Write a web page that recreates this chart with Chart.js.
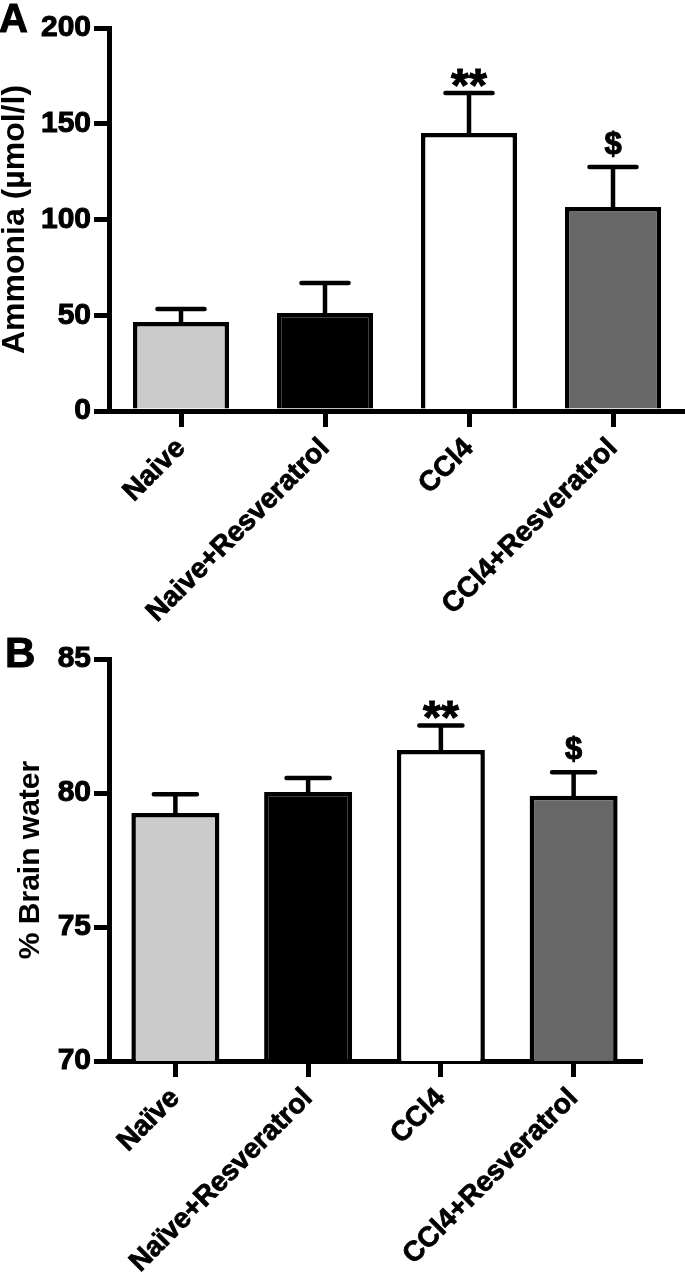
<!DOCTYPE html>
<html>
<head>
<meta charset="utf-8">
<script src="https://cdn.jsdelivr.net/npm/chart.js@4.4.0/dist/chart.umd.min.js"></script>
<style>
html, body { margin: 0; padding: 0; background: #fff; }
#wrap { position: relative; width: 685px; height: 1273px; overflow: hidden; }
canvas { position: absolute; left: 0; }
#chartA { top: 0; }
#chartB { top: 630px; }
</style>
</head>
<body>
<div id="wrap">
    <canvas id="chartA" width="685" height="630"></canvas>
    <canvas id="chartB" width="685" height="643"></canvas>
</div>
<script>
// Groups
const groupsA = ['Naive', 'Naive+Resveratrol', 'CCl4', 'CCl4+Resveratrol'];
const groupsB = ['Naïve', 'Naïve+Resveratrol', 'CCl4', 'CCl4+Resveratrol'];

// Panel A: ammonia (mean + SEM)
const ammoniaMean = [46.5, 51.2, 145.2, 106.5];
const ammoniaSem = [6.8, 15.6, 20.8, 20.9];
const ammoniaTicks = [0, 50, 100, 150, 200];

// Panel B: brain water (mean + SEM)
const waterMean = [79.25, 80.04, 81.6, 79.9];
const waterSem = [0.7, 0.52, 0.92, 0.87];
const waterTicks = [70, 75, 80, 85];

// Significance marks
const marks = ['', '', '**', '$'];

const barColors = ['#cbcbcb', '#000000', '#ffffff', '#676767'];

const boldFont = '"Liberation Sans", Arial, sans-serif';
const narrowFont = '"Liberation Sans Narrow", "Liberation Sans", Arial, sans-serif';

// Error bars + marks drawn above each bar
const errorBars = {
    id: 'errorBars',
    afterDatasetsDraw(chart) {
        const ctx = chart.ctx;
        const ds = chart.data.datasets[0];
        const meta = chart.getDatasetMeta(0);
        const y = chart.scales.y;
        meta.data.forEach((bar, i) => {
            const v = ds.data[i];
            const yBar = y.getPixelForValue(v);
            const yTop = y.getPixelForValue(v + ds.errors[i]);
            const half = bar.width * 0.245;
            ctx.save();
            ctx.strokeStyle = '#000';
            ctx.lineWidth = 4.5;
            ctx.lineCap = 'round';
            ctx.beginPath();
            ctx.moveTo(bar.x, yBar);
            ctx.lineTo(bar.x, yTop);
            ctx.moveTo(bar.x - half, yTop);
            ctx.lineTo(bar.x + half, yTop);
            ctx.stroke();

            const m = ds.marks[i];
            if (m) {
                ctx.fillStyle = '#000';
                ctx.strokeStyle = '#000';
                ctx.lineWidth = 1;
                ctx.textAlign = 'center';
                ctx.textBaseline = 'alphabetic';
                if (m === '**') {
                    ctx.font = 'bold 46px ' + boldFont;
                    ctx.fillText(m, bar.x, yTop + 8);
                    ctx.strokeText(m, bar.x, yTop + 8);
                } else {
                    ctx.font = 'bold 31px ' + boldFont;
                    ctx.fillText(m, bar.x, yTop - 13);
                    ctx.strokeText(m, bar.x, yTop - 13);
                }
            }
            ctx.restore();
        });
    }
};

// Panel letter
const panelLetter = {
    id: 'panelLetter',
    afterDraw(chart) {
        const o = chart.config.options.panel;
        const ctx = chart.ctx;
        ctx.save();
        ctx.fillStyle = '#000';
        ctx.strokeStyle = '#000';
        ctx.lineWidth = 1;
        ctx.font = 'bold ' + o.size + 'px ' + boldFont;
        ctx.textAlign = 'left';
        ctx.textBaseline = 'alphabetic';
        ctx.fillText(o.text, o.x, o.y);
        ctx.strokeText(o.text, o.x, o.y);
        ctx.restore();
    }
};

function makeChart(id, cfg) {
    return new Chart(document.getElementById(id), {
        type: 'bar',
        data: {
            labels: cfg.labels,
            datasets: [{
                data: cfg.means,
                errors: cfg.errors,
                marks: marks,
                backgroundColor: barColors,
                borderColor: '#000',
                borderWidth: 4.5,
                borderSkipped: 'start',
                barPercentage: cfg.barPct,
                categoryPercentage: 1
            }]
        },
        options: {
            responsive: false,
            animation: false,
            devicePixelRatio: 1,
            panel: cfg.panel,
            layout: { padding: { top: cfg.top, right: cfg.right, left: 0, bottom: 0 } },
            plugins: {
                legend: { display: false },
                tooltip: { enabled: false }
            },
            scales: {
                x: {
                    afterFit: s => { s.height = cfg.xHeight; s.paddingLeft = 0; s.paddingRight = 0; },
                    border: { display: true, color: '#000', width: 5 },
                    grid: {
                        offset: false,
                        drawOnChartArea: false,
                        drawTicks: true,
                        tickLength: 16,
                        tickWidth: 5,
                        tickColor: '#000',
                        color: '#000',
                        lineWidth: 5
                    },
                    ticks: {
                        color: '#000',
                        autoSkip: false,
                        maxRotation: 45,
                        minRotation: 45,
                        padding: 5,
                        textStrokeColor: '#000',
                        textStrokeWidth: 0.8,
                        font: { family: boldFont, weight: 'bold', size: 28 }
                    }
                },
                y: {
                    min: cfg.ticks[0],
                    max: cfg.ticks[cfg.ticks.length - 1],
                    afterBuildTicks: s => { s.ticks = cfg.ticks.map(v => ({ value: v })); },
                    afterFit: s => { s.width = 109; s.paddingTop = 0; s.paddingBottom = 0; },
                    border: { display: true, color: '#000', width: 5 },
                    grid: {
                        drawOnChartArea: false,
                        drawTicks: true,
                        tickLength: 15,
                        tickWidth: 5,
                        tickColor: '#000',
                        color: '#000',
                        lineWidth: 5
                    },
                    ticks: {
                        color: '#000',
                        padding: 3,
                        textStrokeColor: '#000',
                        textStrokeWidth: 1,
                        font: { family: narrowFont, weight: 'bold', size: 30 }
                    },
                    title: {
                        display: true,
                        text: cfg.title,
                        color: '#000',
                        padding: { top: cfg.titlePad, bottom: 0 },
                        font: { family: boldFont, weight: 'bold', size: cfg.titleSize }
                    }
                }
            }
        },
        plugins: [errorBars, panelLetter]
    });
}

makeChart('chartA', {
    labels: groupsA,
    means: ammoniaMean,
    errors: ammoniaSem,
    ticks: ammoniaTicks,
    title: 'Ammonia (µmol/l)',
    titleSize: 32,
    titlePad: -4,
    barPct: 0.667,
    top: 28,
    right: 0,
    xHeight: 219,
    panel: { text: 'A', size: 40, x: -1, y: 32 }
});

makeChart('chartB', {
    labels: groupsB,
    means: waterMean,
    errors: waterSem,
    ticks: waterTicks,
    title: '% Brain water',
    titleSize: 30,
    titlePad: 13,
    barPct: 0.663,
    top: 29,
    right: 45,
    xHeight: 212,
    panel: { text: 'B', size: 42, x: 5, y: 37 }
});
</script>
</body>
</html>
